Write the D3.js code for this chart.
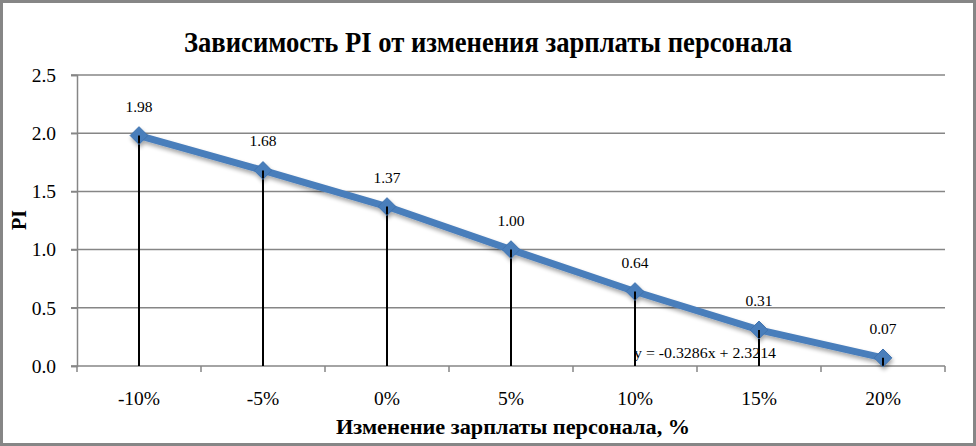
<!DOCTYPE html>
<html><head><meta charset="utf-8">
<script src="https://cdn.jsdelivr.net/npm/d3@7"></script>
<style>
html,body{margin:0;padding:0;background:#fff;}
svg{display:block;}
text{font-family:"Liberation Serif","DejaVu Serif",serif;fill:#000;}
</style></head>
<body>
<script>
const categories = ["-10%","-5%","0%","5%","10%","15%","20%"];
const piValues = [1.98,1.68,1.37,1.00,0.64,0.31,0.07];
const valueLabels = ["1.98","1.68","1.37","1.00","0.64","0.31","0.07"];
const yTicks = [0,0.5,1.0,1.5,2.0,2.5];
const titleText = "Зависимость PI от изменения зарплаты персонала";
const xTitle = "Изменение зарплаты персонала, %";
const yTitle = "PI";
const trendText = "y = -0.3286x + 2.3214";

const W = 976, H = 446;
const m = {left:77, right:31, top:75, bottom:80};
const svg = d3.select("body").append("svg").attr("width",W).attr("height",H);

svg.append("rect").attr("x",1.5).attr("y",1.5).attr("width",W-3).attr("height",H-3)
  .attr("fill","#fff").attr("stroke","#868686").attr("stroke-width",3);

const x = d3.scaleBand().domain(categories).range([m.left, W-m.right]);
const y = d3.scaleLinear().domain([0,2.5]).range([H-m.bottom, m.top]);

// gridlines
svg.append("g").selectAll("line").data(yTicks).join("line")
  .attr("x1",m.left-6).attr("x2",W-m.right)
  .attr("y1",d=>y(d)).attr("y2",d=>y(d))
  .attr("stroke","#868686").attr("stroke-width",1.5);

// y axis
const yAxis = svg.append("g").attr("transform",`translate(${m.left},0)`)
  .call(d3.axisLeft(y).tickValues(yTicks).tickFormat(d3.format(".1f")).tickSize(6).tickPadding(15));
yAxis.select(".domain").attr("stroke","#868686").attr("stroke-width",1.5);
yAxis.selectAll(".tick line").attr("stroke","#868686").attr("stroke-width",1.5);
yAxis.selectAll("text").attr("font-size",19.5).attr("font-family","Liberation Serif");

// x axis
const xAxis = svg.append("g").attr("transform",`translate(0,${y(0)})`)
  .call(d3.axisBottom(x).tickSize(0).tickPadding(25));
xAxis.select(".domain").remove();
xAxis.selectAll("text").attr("font-size",19.5).attr("font-family","Liberation Serif");
// tick marks between categories
const bounds = categories.map(c=>x(c)).concat([x(categories[categories.length-1])+x.bandwidth()]);
svg.append("g").selectAll("line").data(bounds).join("line")
  .attr("x1",d=>d).attr("x2",d=>d).attr("y1",y(0)).attr("y2",y(0)+6)
  .attr("stroke","#868686").attr("stroke-width",1.5);

const cx = c => x(c)+x.bandwidth()/2;

// drop lines
svg.append("g").selectAll("line").data(categories).join("line")
  .attr("x1",c=>cx(c)).attr("x2",c=>cx(c))
  .attr("y1",(c,i)=>y(piValues[i])).attr("y2",y(0))
  .attr("stroke","#000").attr("stroke-width",2);

// shadow filter
const defs = svg.append("defs");
const f = defs.append("filter").attr("id","sh").attr("x","-20%").attr("y","-20%").attr("width","150%").attr("height","180%");
f.append("feGaussianBlur").attr("in","SourceAlpha").attr("stdDeviation",2);
f.append("feOffset").attr("dx",1).attr("dy",3).attr("result","b");
f.append("feComponentTransfer").append("feFuncA").attr("type","linear").attr("slope",0.35);
const fm = f.append("feMerge"); fm.append("feMergeNode"); fm.append("feMergeNode").attr("in","SourceGraphic");

const line = d3.line().x((d,i)=>cx(categories[i])).y(d=>y(d));
const g = svg.append("g").attr("filter","url(#sh)");
g.append("path").datum(piValues).attr("d",line)
  .attr("fill","none").attr("stroke","#4A7EBB").attr("stroke-width",7).attr("stroke-linejoin","round");
g.selectAll("path.mk").data(piValues).join("path").attr("class","mk")
  .attr("d",d3.symbol().type(d3.symbolDiamond2).size(200))
  .attr("transform",(d,i)=>`translate(${cx(categories[i])},${y(d)})`)
  .attr("fill","#4A7EBB").attr("stroke","#3F72AE").attr("stroke-width",1);

svg.append("g").selectAll("line").data(categories).join("line")
  .attr("x1",c=>cx(c)).attr("x2",c=>cx(c))
  .attr("y1",(c,i)=>y(piValues[i])).attr("y2",(c,i)=>y(piValues[i])+8)
  .attr("stroke","#000").attr("stroke-width",2);

// data labels
svg.append("g").selectAll("text").data(piValues).join("text")
  .attr("x",(d,i)=>cx(categories[i])).attr("y",d=>y(d)-24)
  .attr("text-anchor","middle").attr("font-size",15.5).text((d,i)=>valueLabels[i]);

// trend equation
svg.append("text").attr("x",634).attr("y",358).attr("font-size",15.5)
  .attr("textLength",142).attr("lengthAdjust","spacingAndGlyphs").text(trendText);

// title
svg.append("text").attr("x",488).attr("y",52).attr("text-anchor","middle")
  .attr("font-size",30).attr("font-weight","bold").attr("textLength",608).attr("lengthAdjust","spacingAndGlyphs")
  .attr("font-family","Liberation Serif").text(titleText);

// axis titles
svg.append("text").attr("x",513).attr("y",434).attr("text-anchor","middle")
  .attr("font-size",21).attr("font-weight","bold").attr("textLength",354).attr("lengthAdjust","spacingAndGlyphs").text(xTitle);
svg.append("text").attr("transform",`translate(26,220) rotate(-90)`)
  .attr("text-anchor","middle").attr("font-size",20).attr("font-weight","bold").text(yTitle);
</script>
</body></html>
